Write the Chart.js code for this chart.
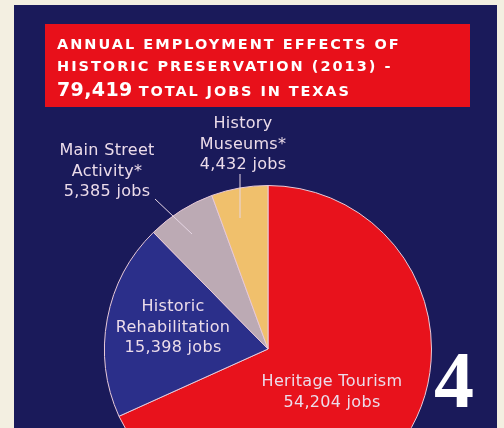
<!DOCTYPE html>
<html>
<head>
<meta charset="utf-8">
<script src="https://cdn.jsdelivr.net/npm/chart.js@4.4.1/dist/chart.umd.min.js"></script>
<style>
html, body { margin: 0; padding: 0; overflow: hidden; width: 504px; height: 428px; background: #f3efe1; }
#panel { position: absolute; left: 14px; top: 5px; width: 483px; height: 440px; background: #1a1a5a; }
#wrap { position: absolute; left: 0; top: 0; width: 504px; height: 520px; }
</style>
</head>
<body>
<div id="panel"></div>
<div id="wrap"><canvas id="pie"></canvas></div>
<script>
// jobs by activity, Texas 2013
const categories = ['Heritage Tourism', 'Historic Rehabilitation', 'Main Street Activity*', 'History Museums*'];
const jobs = [54204, 15398, 5385, 4432];
const sliceColours = ['#e8121c', '#2b2f8a', '#bcaab4', '#f0c06c'];

const titleLines = ['ANNUAL EMPLOYMENT EFFECTS OF', 'HISTORIC PRESERVATION (2013) -'];
const totalJobs = '79,419';

function fmt(n) {
    return n.toLocaleString('en-US') + ' jobs';
}

const decor = {
    id: 'decor',
    beforeDraw(chart) {
        const ctx = chart.ctx;
        ctx.save();
        // red title box
        ctx.fillStyle = '#e8101a';
        ctx.fillRect(45, 24, 425, 83);
        ctx.fillStyle = '#ffffff';
        ctx.textBaseline = 'alphabetic';
        ctx.textAlign = 'left';
        ctx.letterSpacing = '2px';
        ctx.font = 'bold 14.5px "DejaVu Sans"';
        ctx.fillText(titleLines[0], 57, 48.5);
        ctx.fillText(titleLines[1], 57, 71);
        ctx.letterSpacing = '0.4px';
        ctx.font = 'bold 19px "DejaVu Sans"';
        ctx.fillText(totalJobs, 57, 96);
        const w = ctx.measureText(totalJobs).width;
        ctx.letterSpacing = '1.9px';
        ctx.font = 'bold 14.5px "DejaVu Sans"';
        ctx.fillText('TOTAL JOBS IN TEXAS', 57 + w + 6, 96);
        ctx.restore();
    },
    afterDraw(chart) {
        const ctx = chart.ctx;
        ctx.save();
        // leader lines
        ctx.strokeStyle = '#e6d6e4';
        ctx.lineWidth = 1;
        ctx.beginPath();
        ctx.moveTo(240, 174); ctx.lineTo(240, 218);
        ctx.moveTo(155, 199); ctx.lineTo(192, 234);
        ctx.stroke();

        ctx.fillStyle = '#ecdcea';
        ctx.textAlign = 'center';
        ctx.textBaseline = 'middle';
        ctx.font = '16px "DejaVu Sans"';
        ctx.letterSpacing = '0.3px';
        const labels = [
            { x: 332, y: 382, lines: ['Heritage Tourism', fmt(jobs[0])] },
            { x: 173, y: 307, lines: ['Historic', 'Rehabilitation', fmt(jobs[1])] },
            { x: 107, y: 151, lines: ['Main Street', 'Activity*', fmt(jobs[2])] },
            { x: 243, y: 124, lines: ['History', 'Museums*', fmt(jobs[3])] }
        ];
        labels.forEach(l => {
            l.lines.forEach((t, i) => ctx.fillText(t, l.x, l.y + i * 20.5));
        });

        // page number
        ctx.fillStyle = '#ffffff';
        ctx.letterSpacing = '0px';
        ctx.font = 'bold 80px "Liberation Serif", "DejaVu Serif", serif';
        ctx.textBaseline = 'alphabetic';
        ctx.fillText('4', 454, 407);
        ctx.restore();
    }
};

const ctx = document.getElementById('pie');
new Chart(ctx, {
    type: 'pie',
    data: {
        labels: categories,
        datasets: [{
            label: 'Jobs',
            data: jobs,
            backgroundColor: sliceColours,
            borderColor: '#e8cad8',
            borderWidth: 1
        }]
    },
    options: {
        responsive: true,
        maintainAspectRatio: false,
        animation: false,
        layout: {
            padding: { left: 104, right: 72, top: 185, bottom: 7 }
        },
        plugins: {
            legend: { display: false },
            tooltip: { enabled: false }
        }
    },
    plugins: [decor]
});
</script>
</body>
</html>
